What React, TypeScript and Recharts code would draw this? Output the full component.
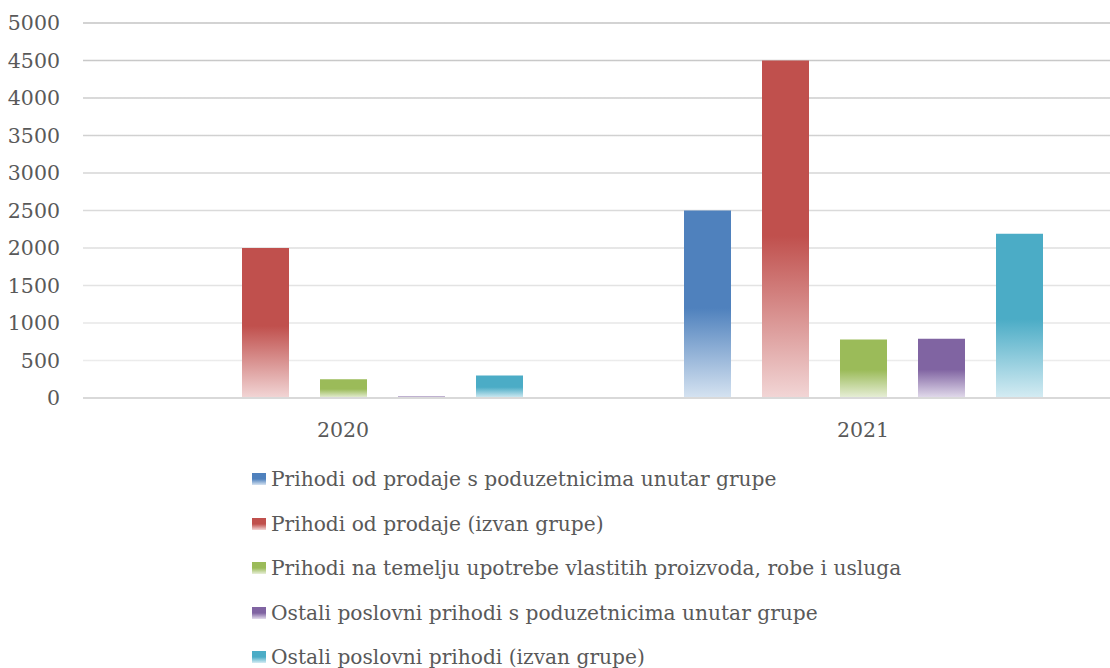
import React from "react";
import { BarChart, Bar, XAxis, YAxis, CartesianGrid, Legend } from "recharts";

const categories = ["2020", "2021"];
const seriesNames = [
  "Prihodi od prodaje s poduzetnicima unutar grupe",
  "Prihodi od prodaje (izvan grupe)",
  "Prihodi na temelju upotrebe vlastitih proizvoda, robe i usluga",
  "Ostali poslovni prihodi s poduzetnicima unutar grupe",
  "Ostali poslovni prihodi (izvan grupe)",
];
const prodajaUnutarGrupe = [0, 2500];
const prodajaIzvanGrupe = [2000, 4500];
const vlastitiProizvodi = [250, 780];
const ostaliUnutarGrupe = [20, 790];
const ostaliIzvanGrupe = [300, 2190];
const yTicks = [0, 500, 1000, 1500, 2000, 2500, 3000, 3500, 4000, 4500, 5000];

const colors = ["#4f81bd", "#c0504d", "#9bbb59", "#8064a2", "#4bacc6"];
const lightColors = ["#d6e3f1", "#f2d6d6", "#e8efd9", "#e3dcec", "#d5ecf3"];
const keys = ["s0", "s1", "s2", "s3", "s4"];

const seriesValues = [
  prodajaUnutarGrupe,
  prodajaIzvanGrupe,
  vlastitiProizvodi,
  ostaliUnutarGrupe,
  ostaliIzvanGrupe,
];

const data = categories.map((c, i) => {
  const row: Record<string, any> = { name: c };
  keys.forEach((k, j) => {
    row[k] = seriesValues[j][i];
  });
  return row;
});

const FONT = "'DejaVu Serif', serif";
const TEXT = "#595959";

const LegendContent = () => (
  <div
    style={{
      height: 211,
      paddingLeft: 252,
      boxSizing: "border-box",
      fontFamily: FONT,
      fontSize: 20.2,
      color: TEXT,
    }}
  >
    {seriesNames.map((n, i) => (
      <div
        key={n}
        style={{
          height: 44.5,
          display: "flex",
          alignItems: "center",
          whiteSpace: "nowrap",
        }}
      >
        <span
          style={{
            display: "inline-block",
            width: 14,
            height: 12,
            marginRight: 5,
            background: `linear-gradient(to bottom, ${colors[i]} 0%, ${colors[i]} 50%, ${lightColors[i]} 100%)`,
          }}
        />
        <span>{n}</span>
      </div>
    ))}
  </div>
);

export default function App() {
  return (
    <div style={{ position: "absolute", left: 0, top: 0, width: 1110, height: 668, overflow: "hidden", background: "#fff" }}>
      <BarChart
        width={1123}
        height={668}
        data={data}
        margin={{ top: 23, right: 0, bottom: 0, left: 0 }}
        barSize={47}
        barGap={31}
      >
        <defs>
          {colors.map((c, i) => (
            <linearGradient key={i} id={`g${i}`} x1="0" y1="0" x2="0" y2="1">
              <stop offset="0" stopColor={c} />
              <stop offset="0.52" stopColor={c} />
              <stop offset="1" stopColor={lightColors[i]} />
            </linearGradient>
          ))}
          <linearGradient id="gridGrad" gradientUnits="userSpaceOnUse" x1="0" y1="23" x2="0" y2="398">
            <stop offset="0" stopColor="#c4c4c4" />
            <stop offset="1" stopColor="#f0f0f0" />
          </linearGradient>
        </defs>
        <CartesianGrid vertical={false} stroke="url(#gridGrad)" strokeWidth={1.5} />
        <XAxis
          dataKey="name"
          axisLine={{ stroke: "#d9d9d9", strokeWidth: 2 }}
          tickLine={false}
          tickSize={0}
          tickMargin={24}
          height={59}
          tick={{ fill: TEXT, fontSize: 20.5, fontFamily: FONT }}
        />
        <YAxis
          domain={[0, 5000]}
          ticks={yTicks}
          interval={0}
          axisLine={false}
          tickLine={false}
          tickSize={0}
          tickMargin={23}
          width={83}
          tick={{ fill: TEXT, fontSize: 20.5, fontFamily: FONT }}
        />
        <Legend
          layout="horizontal"
          verticalAlign="bottom"
          align="left"
          content={LegendContent}
        />
        {keys.map((k, i) => (
          <Bar
            key={k}
            dataKey={k}
            name={seriesNames[i]}
            fill={`url(#g${i})`}
            isAnimationActive={false}
          />
        ))}
      </BarChart>
    </div>
  );
}
